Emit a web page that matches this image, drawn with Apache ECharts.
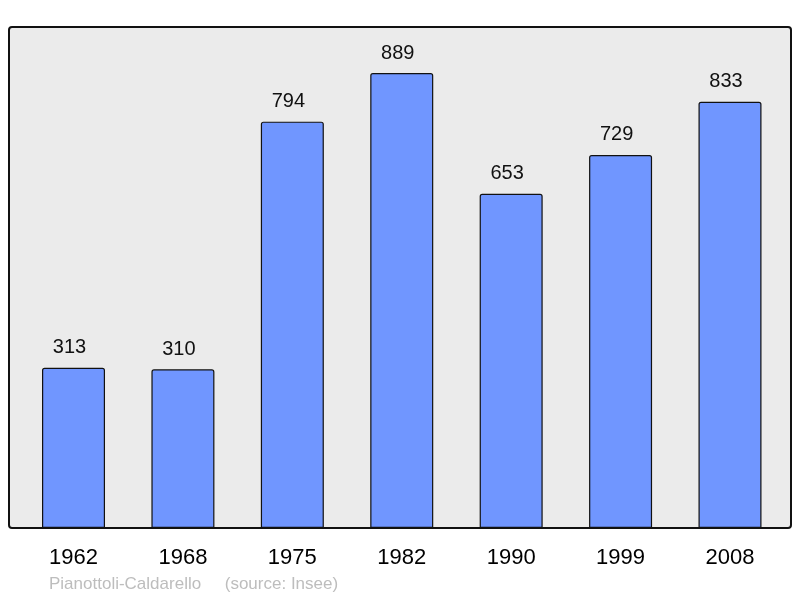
<!DOCTYPE html>
<html><head><meta charset="utf-8">
<script src="https://cdn.jsdelivr.net/npm/echarts@6/dist/echarts.min.js"></script>
<style>html,body{margin:0;padding:0;background:#fff}#c{width:800px;height:598px}</style>
</head><body><div id="c"></div>
<script>
const years = ['1962','1968','1975','1982','1990','1999','2008'];
const population = [313, 310, 794, 889, 653, 729, 833];
const footer = 'Pianottoli-Caldarello     (source: Insee)';

const chart = echarts.init(document.getElementById('c'), null, {renderer:'canvas'});
chart.setOption({
  animation: false,
  backgroundColor: '#ffffff',
  graphic: [
    {type:'rect', z: -10, shape:{x:9, y:27, width:782, height:501, r:3},
     style:{fill:'#ebebeb', stroke:'#111', lineWidth:2}},
    {type:'text', left: 49, top: 576,
     style:{text: footer, fill:'#bdbdbd', font:'17px "Liberation Sans", Arial, sans-serif'}}
  ],
  grid: {left: 18.8, right: 15.3, top: 27, bottom: 70, containLabel: false},
  xAxis: {
    type: 'category', data: years,
    axisLine: {show: false}, axisTick: {show: false},
    axisLabel: {color:'#000', fontSize: 22, fontFamily:'"Liberation Sans", Arial, sans-serif', margin: 19}
  },
  yAxis: {
    type: 'value', min: 0, max: 979,
    show: false, splitLine: {show: false}
  },
  series: [{
    type: 'bar', data: population, barWidth: 63,
    itemStyle: {color:'#7096ff', borderColor:'#111', borderWidth: 1.2, borderRadius:[2,2,0,0]},
    label: {show: true, position: 'top', distance: 10, offset: [-4, 0], color:'#111', fontSize: 20,
            fontFamily:'"Liberation Sans", Arial, sans-serif'}
  }]
});
</script></body></html>
